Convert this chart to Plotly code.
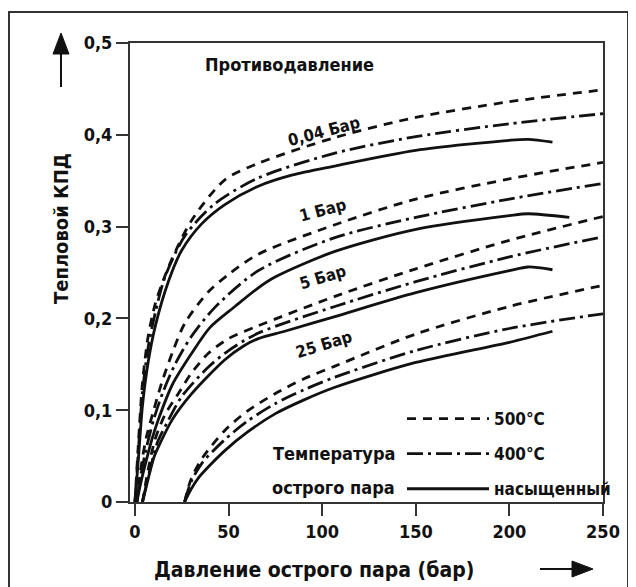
import plotly.graph_objects as go

# ---------------- data ----------------
# live-steam pressure (bar) -> thermal efficiency, for 4 back-pressures x 3 steam temperatures
bp004_500_x = [0, 2, 4, 7, 10.7, 14.3, 19.6, 30.3, 48, 65.9, 106.8, 150, 200, 250]
bp004_500_y = [0, 0.07, 0.13, 0.18, 0.215, 0.237, 0.264, 0.307, 0.351, 0.369, 0.397, 0.419, 0.436, 0.449]
bp004_400_x = [0, 2, 4, 7, 10.7, 16, 26.7, 42.7, 65.9, 106.8, 150, 200, 250]
bp004_400_y = [0, 0.062, 0.12, 0.168, 0.205, 0.245, 0.29, 0.325, 0.353, 0.38, 0.398, 0.412, 0.423]
bp004_sat_x = [0, 2, 4, 7, 11, 17.8, 24.9, 35.6, 48, 65.9, 83.7, 106.8, 150, 200, 210, 223]
bp004_sat_y = [0, 0.052, 0.105, 0.152, 0.193, 0.24, 0.274, 0.303, 0.324, 0.344, 0.356, 0.366, 0.383, 0.394, 0.395, 0.392]

bp1_500_x = [1, 3, 6, 10, 14.3, 20, 26.7, 39.2, 50, 65.9, 106.8, 150, 200, 250]
bp1_500_y = [0, 0.035, 0.07, 0.1, 0.13, 0.163, 0.195, 0.229, 0.248, 0.27, 0.302, 0.33, 0.352, 0.370]
bp1_400_x = [1, 3, 6, 10, 15, 21.4, 30, 42.7, 65.9, 106.8, 150, 200, 250]
bp1_400_y = [0, 0.028, 0.058, 0.09, 0.12, 0.15, 0.18, 0.212, 0.252, 0.288, 0.31, 0.33, 0.347]
bp1_sat_x = [1, 3, 6, 9, 12.5, 20, 30.3, 40, 53.4, 65, 74.8, 106.8, 150, 200, 210, 232]
bp1_sat_y = [0, 0.02, 0.045, 0.068, 0.09, 0.128, 0.162, 0.19, 0.213, 0.232, 0.245, 0.273, 0.297, 0.312, 0.314, 0.310]

bp5_500_x = [4, 7, 10.7, 16, 23.1, 30, 39.2, 50, 65.9, 106.8, 150, 200, 250]
bp5_500_y = [0, 0.035, 0.068, 0.095, 0.118, 0.14, 0.162, 0.178, 0.192, 0.224, 0.254, 0.285, 0.311]
bp5_400_x = [4, 8, 12, 17.8, 25, 39.2, 50, 65.9, 106.8, 150, 200, 250]
bp5_400_y = [0, 0.035, 0.065, 0.089, 0.115, 0.147, 0.165, 0.184, 0.213, 0.24, 0.267, 0.289]
bp5_sat_x = [4, 7, 10, 12.5, 20, 30.3, 48, 58, 65.9, 80, 106.8, 150, 200, 210, 223]
bp5_sat_y = [0, 0.025, 0.048, 0.06, 0.09, 0.118, 0.155, 0.17, 0.178, 0.186, 0.202, 0.228, 0.252, 0.256, 0.253]

bp25_500_x = [26.5, 30, 36, 48, 60, 74.8, 90, 106.8, 150, 200, 250]
bp25_500_y = [0, 0.025, 0.048, 0.078, 0.099, 0.118, 0.134, 0.148, 0.183, 0.213, 0.236]
bp25_400_x = [26.5, 30, 36, 48, 60, 74.8, 90, 106.8, 150, 200, 250]
bp25_400_y = [0, 0.022, 0.043, 0.068, 0.088, 0.107, 0.122, 0.136, 0.165, 0.189, 0.205]
bp25_sat_x = [26.5, 30, 33.8, 40, 48, 60, 74.8, 90, 106.8, 150, 200, 223]
bp25_sat_y = [0, 0.014, 0.026, 0.04, 0.056, 0.076, 0.096, 0.111, 0.125, 0.152, 0.174, 0.186]

backpressure_labels = ["0,04 Бар", "1 Бар", "5 Бар", "25 Бар"]
temperature_labels = ["500°C", "400°C", "насыщенный"]
x_ticks = [0, 50, 100, 150, 200, 250]
y_ticks = [0, 0.1, 0.2, 0.3, 0.4, 0.5]
y_ticktext = ["0", "0,1", "0,2", "0,3", "0,4", "0,5"]

series = [
    [(bp004_500_x, bp004_500_y), (bp004_400_x, bp004_400_y), (bp004_sat_x, bp004_sat_y)],
    [(bp1_500_x, bp1_500_y), (bp1_400_x, bp1_400_y), (bp1_sat_x, bp1_sat_y)],
    [(bp5_500_x, bp5_500_y), (bp5_400_x, bp5_400_y), (bp5_sat_x, bp5_sat_y)],
    [(bp25_500_x, bp25_500_y), (bp25_400_x, bp25_400_y), (bp25_sat_x, bp25_sat_y)],
]

# ---------------- styling ----------------
FONT = "Liberation Sans Narrow, Arial Narrow, DejaVu Sans Condensed, sans-serif"
INK = "#111111"
FRAME = "#333333"
DASHES = ["9px,7px", "16px,5px,3px,5px", "solid"]

# page has an 8px body margin; figure is sized so the page layout matches
OFF = 8
W, H = 636 - OFF, 587 - OFF
L, R, T, B = 130, 603, 43, 502  # plot area in page pixels


def px(x):
    return (x - L) / (R - L)


def py(y):
    return (B - y) / (B - T)


fig = go.Figure()
for bi, group in enumerate(series):
    for ti, (xs, ys) in enumerate(group):
        fig.add_trace(go.Scatter(
            x=xs, y=ys, mode="lines",
            line=dict(color=INK, width=2.8, dash=DASHES[ti], shape="spline", smoothing=0.8),
            name=temperature_labels[ti], legendgroup=temperature_labels[ti],
            showlegend=(bi == 0), legendrank=ti + 1, hoverinfo="skip",
        ))

annotations = []


def text(x, y, s, size=17, angle=0, xanchor="center"):
    annotations.append(dict(
        x=px(x), y=py(y), xref="paper", yref="paper", text=s, showarrow=False,
        textangle=angle, xanchor=xanchor, yanchor="middle",
        font=dict(family=FONT, size=size, color=INK, weight="bold"),
    ))


text(289, 65, "Противодавление", size=18)
label_pos = [(324, 131, -15), (322, 210, -15), (322, 277, -17), (324, 344, -17)]
for (lx, ly, ang), lab in zip(label_pos, backpressure_labels):
    text(lx, ly, lab, size=16.5, angle=ang)
text(397, 453, "Температура", size=18, xanchor="right")
text(397, 487, "острого пара", size=18, xanchor="right")
text(61, 229, "Тепловой КПД", size=20, angle=-90)
text(314, 570, "Давление острого пара (бар)", size=21)

shapes = [
    dict(type="rect", xref="paper", yref="paper", x0=px(9), x1=px(628), y0=py(600), y1=py(12),
         line=dict(color=FRAME, width=2), layer="below"),
    dict(type="line", xref="paper", yref="paper", x0=px(61), x1=px(61), y0=py(87), y1=py(52),
         line=dict(color=INK, width=2)),
    dict(type="path", xref="paper", yref="paper",
         path=f"M {px(61)} {py(33)} L {px(53)} {py(54)} L {px(69)} {py(54)} Z",
         fillcolor=INK, line=dict(color=INK, width=1)),
    dict(type="line", xref="paper", yref="paper", x0=px(540), x1=px(574), y0=py(569), y1=py(569),
         line=dict(color=INK, width=2)),
    dict(type="path", xref="paper", yref="paper",
         path=f"M {px(593)} {py(569)} L {px(572)} {py(561)} L {px(572)} {py(577)} Z",
         fillcolor=INK, line=dict(color=INK, width=1)),
]

axis_common = dict(
    showline=True, mirror=True, linecolor=FRAME, linewidth=2,
    ticks="outside", ticklen=12, tickwidth=2, tickcolor=FRAME,
    showgrid=False, zeroline=False,
    tickfont=dict(family=FONT, size=18, color=INK, weight="bold"),
)

fig.update_layout(
    width=W, height=H,
    margin=dict(l=L - OFF, r=W - (R - OFF), t=T - OFF, b=H - (B - OFF), pad=0),
    paper_bgcolor="white", plot_bgcolor="white",
    xaxis=dict(range=[-2.67, 250], tickvals=x_ticks, ticktext=[str(v) for v in x_ticks], **axis_common),
    yaxis=dict(range=[0, 0.5], tickvals=y_ticks, ticktext=y_ticktext, **axis_common),
    legend=dict(
        x=px(402), y=py(401), xanchor="left", yanchor="top",
        bgcolor="rgba(0,0,0,0)", itemwidth=82, tracegroupgap=10,
        font=dict(family=FONT, size=17, color=INK, weight="bold"),
    ),
    annotations=annotations, shapes=shapes, showlegend=True,
)

fig.write_html("out.html")
